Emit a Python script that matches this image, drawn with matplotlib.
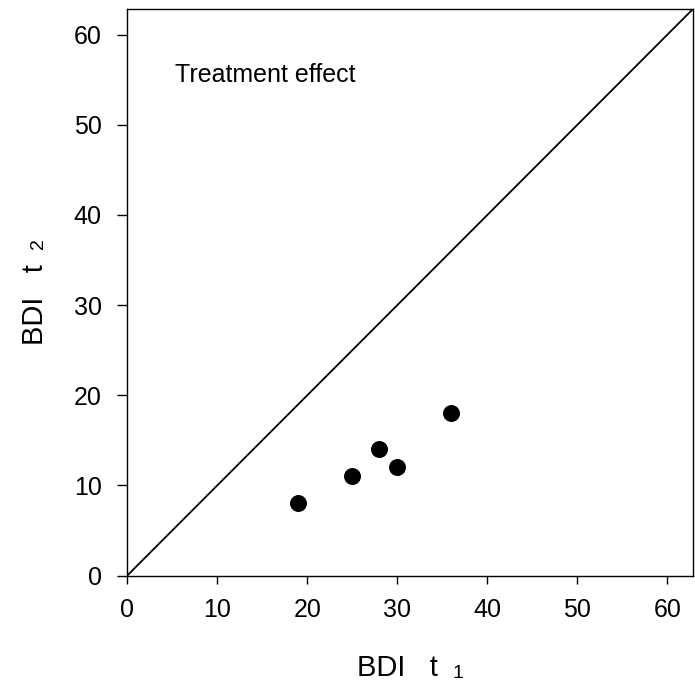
import matplotlib
matplotlib.use("Agg")
import matplotlib.pyplot as plt

plt.rcParams['font.family'] = ['Liberation Sans', 'DejaVu Sans']

# BDI scores before (t1) and after (t2) treatment
bdi_t1 = [19, 25, 28, 30, 36]
bdi_t2 = [8, 11, 14, 12, 18]
ticks = [0, 10, 20, 30, 40, 50, 60]
axis_max = 62.8

W, H = 695, 682
fig = plt.figure(figsize=(W / 100, H / 100), dpi=100)
ax = fig.add_axes([127.3 / W, 1 - 575.5 / H, 565.4 / W, 566.2 / H])

# identity line (no change)
ax.plot([0, axis_max], [0, axis_max], color='black', lw=1.3)
ax.plot(bdi_t1, bdi_t2, 'o', color='black', ms=11.2, mec='black')

ax.set_xlim(0, axis_max)
ax.set_ylim(0, axis_max)
ax.set_xticks(ticks)
ax.set_yticks(ticks)
ax.tick_params(axis='both', direction='out', labelsize=18, pad=11, width=1, color='black')
ax.tick_params(axis='x', length=5.5)
ax.tick_params(axis='y', length=7.5)
for s in ax.spines.values():
    s.set_linewidth(1.0)

ax.text(5.3, 54.7, 'Treatment effect', fontsize=18, ha='left', va='baseline')

# axis labels with small subscripts
fig.text(357 / W, 1 - 676 / H, 'BDI   t', fontsize=21, ha='left', va='baseline')
fig.text(452 / W, 1 - 678 / H, '1', fontsize=14, ha='left', va='baseline')
fig.text(43 / W, 1 - 345 / H, 'BDI   t', fontsize=21, ha='left', va='baseline',
         rotation=90, rotation_mode='anchor')
fig.text(43 / W, 1 - 249 / H, '2', fontsize=14, ha='left', va='baseline',
         rotation=90, rotation_mode='anchor')

fig.savefig('out.png', dpi=100)
